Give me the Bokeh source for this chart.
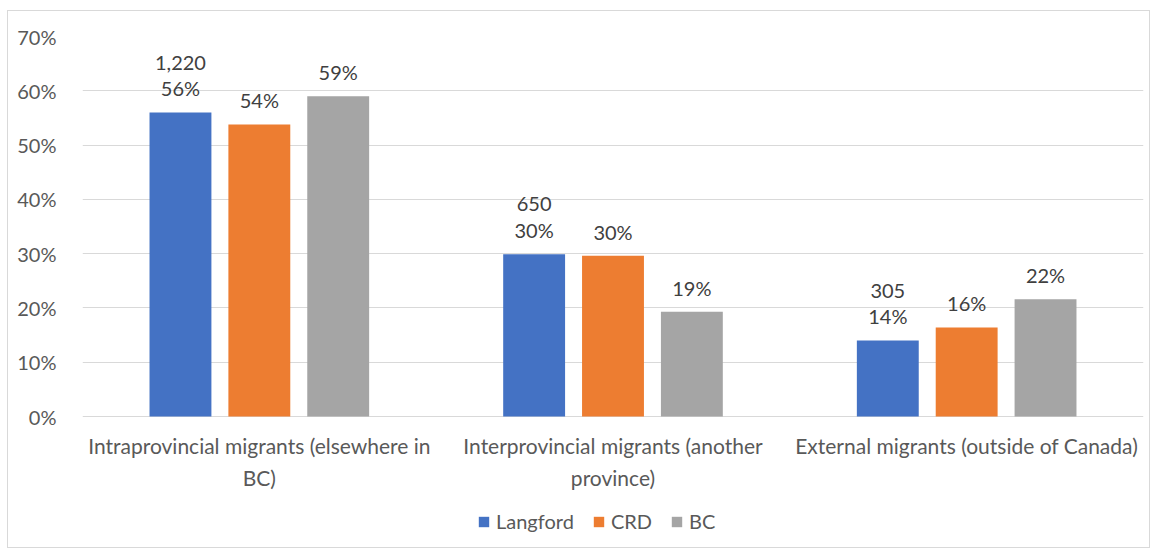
from bokeh.plotting import figure
from bokeh.models import ColumnDataSource, FixedTicker, Legend, LegendItem, Range1d
from bokeh.core.properties import value
from bokeh.embed import file_html
from bokeh.resources import INLINE

categories = ["Intraprovincial migrants (elsewhere in\nBC)",
              "Interprovincial migrants (another\nprovince)",
              "External migrants (outside of Canada)"]
series = ["Langford", "CRD", "BC"]
langford_pct = [56.0, 29.9, 14.0]
crd_pct = [53.8, 29.6, 16.4]
bc_pct = [59.0, 19.3, 21.6]
langford_counts = ["1,220", "650", "305"]
y_ticks = [0, 10, 20, 30, 40, 50, 60, 70]

colors = ["#4472C4", "#ED7D31", "#A5A5A5"]
FONT = "Lato"

# frame extends below the 0% line to hold category labels and legend
FRAME_H = 511
PLOT_H = 380  # pixels from 0% to 70%
y_min = -70 * (FRAME_H - PLOT_H) / PLOT_H

p = figure(width=1141, height=537, frame_width=1061, frame_height=FRAME_H,
           x_range=Range1d(0, 3), y_range=Range1d(y_min, 70),
           output_backend="svg", toolbar_location=None,
           min_border_left=74, min_border_right=6, min_border_top=25, min_border_bottom=0)
p.styles = {"border": "1px solid #d9d9d9", "margin-left": "7px", "margin-top": "10px"}
p.outline_line_color = None
p.background_fill_color = "white"

offsets = [-0.223, 0.0, 0.223]
vals = [langford_pct, crd_pct, bc_pct]
items = []
for i, (name, v) in enumerate(zip(series, vals)):
    xs = [k + 0.5 + offsets[i] for k in range(len(categories))]
    if i == 0:
        labels = [f"{c}\n{round(pv)}%" for c, pv in zip(langford_counts, v)]
    else:
        labels = [f"{round(pv)}%" for pv in v]
    src = ColumnDataSource(dict(x=xs, top=v, label=labels))
    r = p.vbar(x="x", top="top", width=0.175, source=src, color=colors[i], line_color=None)
    p.text(x="x", y="top", text="label", source=src, text_align="center",
           text_baseline="bottom", y_offset=-12, text_font=value(FONT),
           text_font_size="20px", text_color="#404040", text_line_height=1.12)
    items.append(LegendItem(label=name, renderers=[r]))

# category labels under the 0% line
cat_src = ColumnDataSource(dict(x=[k + 0.5 for k in range(len(categories))],
                                y=[0] * len(categories), label=categories))
p.text(x="x", y="y", text="label", source=cat_src, text_align="center",
       text_baseline="top", y_offset=16, text_font=value(FONT),
       text_font_size="21px", text_color="#595959", text_line_height=1.3)

p.xaxis.visible = False

p.yaxis.ticker = FixedTicker(ticks=y_ticks)
p.yaxis.major_label_overrides = {t: f"{t}%" for t in y_ticks}
p.yaxis.major_label_text_font = FONT
p.yaxis.major_label_text_font_size = "20px"
p.yaxis.major_label_text_color = "#595959"
p.yaxis.major_tick_line_color = None
p.yaxis.minor_tick_line_color = None
p.yaxis.axis_line_color = None
p.yaxis.major_label_standoff = 20

p.xgrid.grid_line_color = None
p.ygrid.ticker = FixedTicker(ticks=y_ticks)
p.ygrid.grid_line_color = "#d9d9d9"

legend = Legend(items=items, orientation="horizontal", location=(395, 14),
                label_text_font=FONT, label_text_font_size="20px", label_text_color="#595959",
                glyph_width=13, glyph_height=13, label_standoff=6, spacing=18,
                border_line_color=None, background_fill_alpha=0, margin=0, padding=4)
p.add_layout(legend, "center")

open("out.html", "w").write(file_html(p, INLINE))
